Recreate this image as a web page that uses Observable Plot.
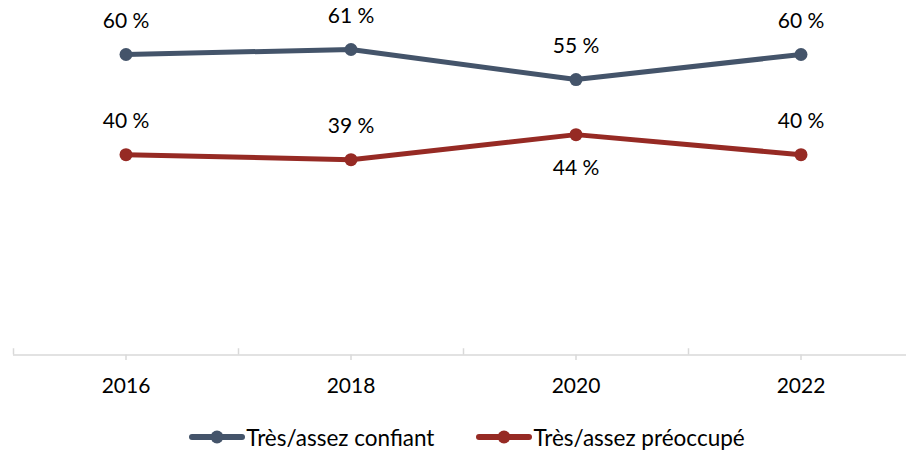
<!DOCTYPE html>
<html><head><meta charset="utf-8">
<script src="https://cdn.jsdelivr.net/npm/d3@7"></script>
<script src="https://cdn.jsdelivr.net/npm/@observablehq/plot@0.6"></script>
<style>
html,body{margin:0;padding:0;background:#fff;}
body{width:906px;height:451px;overflow:hidden;font-family:Lato, "Open Sans", sans-serif;}
#chart svg{display:block;overflow:hidden;}
.legend{display:flex;justify-content:center;align-items:center;height:34px;margin-top:10px;padding-left:28px;font-size:22.5px;color:#000;}
.item{display:flex;align-items:center;}
.item + .item{margin-left:42px;}
.item svg{display:block;margin-right:1px;}
</style></head>
<body>
<div id="chart"></div>
<div class="legend" id="legend"></div>
<script>
const years = [2016, 2018, 2020, 2022];
const yearLabels = ["2016", "2018", "2020", "2022"];
const seriesNames = ["Très/assez confiant", "Très/assez préoccupé"];
const confiant = [60, 61, 55, 60];
const preoccupe = [40, 39, 44, 40];
const colors = ["#44546a", "#962a24"];
const boundaries = [2015, 2017, 2019, 2021];

const rows = [
  ...years.map((yr, i) => ({year: yr, value: confiant[i], series: seriesNames[0]})),
  ...years.map((yr, i) => ({year: yr, value: preoccupe[i], series: seriesNames[1]}))
];
const below = d => d.series === seriesNames[1] && d.year === 2020;
const axisColor = "#d9d9d9";

const plot = Plot.plot({
  width: 906,
  height: 410,
  margin: 0,
  x: {domain: [2015, 2023], range: [13, 913], axis: null},
  y: {domain: [0, 60], range: [354.5, 54], axis: null},
  color: {domain: seriesNames, range: colors},
  style: {fontFamily: "Lato, 'Open Sans', sans-serif", fontSize: "21px", color: "#000", background: "#fff"},
  marks: [
    Plot.ruleY([0], {x1: 2015, x2: 2023, stroke: axisColor, strokeWidth: 1.5}),
    Plot.ruleX(boundaries, {x: d => d, y1: 0, y2: 1.25, stroke: axisColor, strokeWidth: 1.5}),
    Plot.ruleX(years, {x: d => d, y1: 0, y2: -1.1, stroke: axisColor, strokeWidth: 1.5}),
    Plot.text(years, {x: d => d, y: 0, dy: 31, text: (d, i) => yearLabels[i], fontSize: 21, fill: "#000"}),
    Plot.line(rows, {x: "year", y: "value", z: "series", stroke: "series", strokeWidth: 5}),
    Plot.dot(rows, {x: "year", y: "value", fill: "series", r: 6.5}),
    Plot.text(rows.filter(d => !below(d)), {x: "year", y: "value", text: d => d.value + " %", dy: -33, fontSize: 21, fill: "#000"}),
    Plot.text(rows.filter(below), {x: "year", y: "value", text: d => d.value + " %", dy: 34, fontSize: 21, fill: "#000"})
  ]
});
document.getElementById("chart").append(plot);

const legend = document.getElementById("legend");
seriesNames.forEach((name, i) => {
  const item = document.createElement("div");
  item.className = "item";
  item.innerHTML = `<svg width="56" height="16"><line x1="3" y1="8" x2="53" y2="8" stroke="${colors[i]}" stroke-width="6" stroke-linecap="round"/><circle cx="28" cy="8" r="6.5" fill="${colors[i]}"/></svg><span>${name}</span>`;
  legend.append(item);
});
</script>
</body></html>
